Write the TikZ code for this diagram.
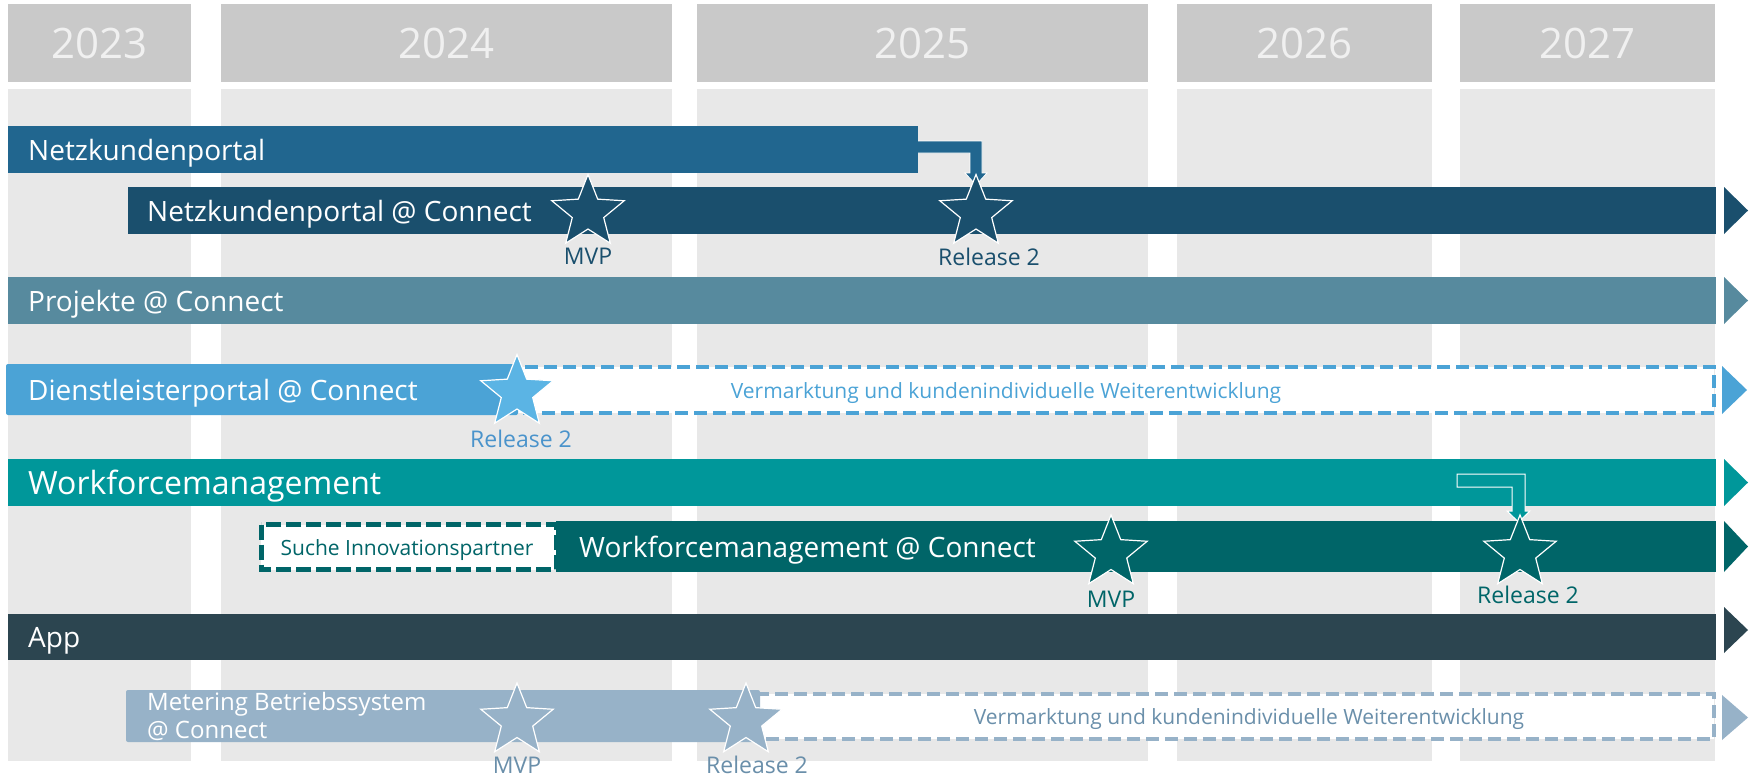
\documentclass[tikz,border=0pt]{standalone}
\usepackage{fontspec}
\setmainfont{Open Sans}
\usetikzlibrary{shapes.geometric}

\definecolor{hdrgray}{HTML}{C9C9C9}
\definecolor{colgray}{HTML}{E8E8E8}
\definecolor{hdrtext}{HTML}{F0F0F0}
\definecolor{nkp}{HTML}{21668F}
\definecolor{nkpc}{HTML}{1A4F6D}
\definecolor{proj}{HTML}{578A9E}
\definecolor{dlp}{HTML}{4BA3D6}
\definecolor{dlpstar}{HTML}{5BB4E4}
\definecolor{dlplabel}{HTML}{4A93CB}
\definecolor{wfm}{HTML}{00979A}
\definecolor{wfmc}{HTML}{006568}
\definecolor{app}{HTML}{2C4550}
\definecolor{met}{HTML}{97B2C8}
\definecolor{mettext}{HTML}{6A8FAA}

\begin{document}
\begin{tikzpicture}[x=1pt,y=-1pt,
  yeartext/.style={text=hdrtext, font=\fontsize{42}{44}\selectfont, inner sep=0},
  bartext/.style={anchor=west, text=white, font=\fontsize{28}{30}\selectfont, inner sep=0, yshift=-3.5pt},
  smalltext/.style={font=\fontsize{21}{24}\selectfont, inner sep=0, yshift=-3pt},
  mlabel/.style={font=\fontsize{23}{26}\selectfont, inner sep=0},
  mstar/.style={star, star points=5, star point ratio=2.3, minimum size=76, inner sep=0, draw=white, line width=1.2pt},
  dashbox/.style={fill=white, line width=4.5pt, dash pattern=on 13pt off 6pt},
]
  \useasboundingbox (0,0) rectangle (1759,776);
  \fill[white] (0,0) rectangle (1759,776);

  % years
  \fill[hdrgray] (8,4) rectangle (191,82);
  \fill[hdrgray] (221,4) rectangle (672,82);
  \fill[hdrgray] (697,4) rectangle (1148,82);
  \fill[hdrgray] (1177,4) rectangle (1432,82);
  \fill[hdrgray] (1460,4) rectangle (1715,82);

  \fill[colgray] (8,89) rectangle (191,761);
  \fill[colgray] (221,89) rectangle (672,761);
  \fill[colgray] (697,89) rectangle (1148,761);
  \fill[colgray] (1177,89) rectangle (1432,761);
  \fill[colgray] (1460,89) rectangle (1715,761);

  \node[yeartext] (y2023) at (99.5,43) {2023};
  \node[yeartext] (y2024) at (446.5,43) {2024};
  \node[yeartext] (y2025) at (922.5,43) {2025};
  \node[yeartext] (y2026) at (1304.5,43) {2026};
  \node[yeartext] (y2027) at (1587.5,43) {2027};

  % Netzkundenportal
  \coordinate (e1s) at (905,147);
  \fill[nkp, draw=white, line width=0.8pt] (e1s) ++(0,-6) -- ++(77,0) -- ++(0,32) -- ++(5,0)
    -- ++(-11,12) -- ++(-11,-12) -- ++(5,0) -- ++(0,-20) -- ++(-65,0) -- cycle;
  \fill[nkp] (8,126) rectangle (918,173);
  \node[bartext] (nkpt) at (28,149.5) {Netzkundenportal};

  \fill[nkpc] (128,187) rectangle (1716,234);
  \fill[nkpc] (1724,187) -- (1748,210.5) -- (1724,234) -- cycle;
  \node[bartext] (nkpct) at (147,210.5) {Netzkundenportal @ Connect};

  % Projekte
  \fill[proj] (8,277) rectangle (1716,324);
  \fill[proj] (1724,277) -- (1748,300.5) -- (1724,324) -- cycle;
  \node[bartext] (projt) at (28,300.5) {Projekte @ Connect};

  % Dienstleisterportal
  \draw[dashbox, draw=dlp] (512,367) rectangle (1714,413);
  \fill[dlp] (1722,366) -- (1747,390) -- (1722,414) -- cycle;
  \fill[dlp, rounded corners=2] (6,364) rectangle (518,415);
  \node[bartext] (dlpt) at (28,390) {Dienstleisterportal @ Connect};
  \node[smalltext, text=dlp] (dlpv) at (1006,390) {Vermarktung und kundenindividuelle Weiterentwicklung};

  % Workforcemanagement
  \fill[wfm] (8,459) rectangle (1716,506);
  \fill[wfm] (1724,459) -- (1748,482.5) -- (1724,506) -- cycle;
  \node[bartext, font=\fontsize{32}{34}\selectfont] (wfmt) at (28,482.5) {Workforcemanagement};
  \coordinate (e2s) at (1457,480.5);
  \fill[wfm, draw=white, line width=1pt] (e2s) ++(0,-6.5) -- ++(68,0) -- ++(0,37) -- ++(5,0)
    -- ++(-11.5,11) -- ++(-11.5,-11) -- ++(5,0) -- ++(0,-24) -- ++(-55,0) -- cycle;

  \fill[wfmc] (556,521) rectangle (1716,572);
  \fill[wfmc] (1724,521) -- (1748,546.5) -- (1724,572) -- cycle;
  \draw[dashbox, draw=wfmc, line width=5pt, dash pattern=on 15pt off 5pt] (261,524.5) rectangle (556,569.5);
  \node[smalltext, text=wfmc] (suche) at (407,547) {Suche Innovationspartner};
  \node[bartext] (wfmct) at (579,546.5) {Workforcemanagement @ Connect};

  % App
  \fill[app] (8,614) rectangle (1716,660);
  \fill[app] (1724,607) -- (1748,630) -- (1724,653) -- cycle;
  \node[bartext] (appt) at (28,637) {App};

  % Metering
  \draw[dashbox, draw=met] (754,694) rectangle (1714,739);
  \fill[met] (1722,695) -- (1748,717.5) -- (1722,740) -- cycle;
  \fill[met, rounded corners=2] (126,690) rectangle (760,742);
  \node[bartext, font=\fontsize{24}{28}\selectfont, align=left] (mett) at (147,713) {Metering Betriebssystem\\@ Connect};
  \node[smalltext, text=mettext] (metv) at (1249,716) {Vermarktung und kundenindividuelle Weiterentwicklung};

  % milestones
  \node[mstar, fill=nkpc] (s1) at (588,212.5) {};
  \node[mstar, fill=nkpc] (s2) at (976,212.5) {};
  \node[mstar, fill=dlpstar] (s3) at (517,392.5) {};
  \node[mstar, fill=wfmc] (s4) at (1111,553) {};
  \node[mstar, fill=wfmc] (s5) at (1520,553) {};
  \node[mstar, fill=met] (s6) at (517,721) {};
  \node[mstar, fill=met] (s7) at (746,721) {};

  \node[mlabel, text=nkpc] (s1l) at (588,256) {MVP};
  \node[mlabel, text=nkpc] (s2l) at (989,257) {Release 2};
  \node[mlabel, text=dlplabel] (s3l) at (521,439) {Release 2};
  \node[mlabel, text=wfmc] (s4l) at (1111,599) {MVP};
  \node[mlabel, text=wfmc] (s5l) at (1528,595) {Release 2};
  \node[mlabel, text=mettext] (s6l) at (517,765) {MVP};
  \node[mlabel, text=mettext] (s7l) at (757,765) {Release 2};
\end{tikzpicture}
\end{document}
